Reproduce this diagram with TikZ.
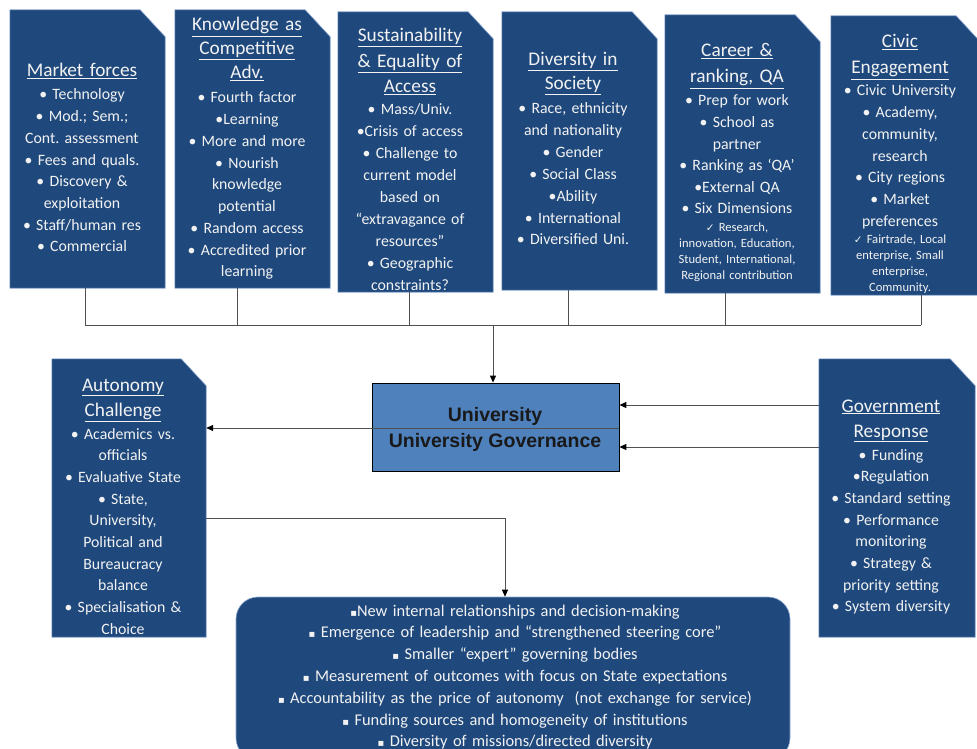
\documentclass[tikz,border=0pt]{standalone}
\usepackage{fontspec}
\setmainfont{Carlito}
\newfontfamily\symf{DejaVu Sans}
\newfontfamily\arialf{Liberation Sans}
\usetikzlibrary{fit,arrows.meta}
\definecolor{boxblue}{HTML}{1F497D}
\definecolor{unifill}{HTML}{4F81BD}
\definecolor{boxedge}{HTML}{8DA9D2}
\definecolor{txt}{HTML}{F2F2F2}
\definecolor{linec}{HTML}{505050}
\newcommand\snipbox[5]{%
  \node[inner sep=0pt, fit={(#2,#3)(#4,#5)}] (#1) {};
  \filldraw[boxshape] (#1.south west) -- (#1.north west) -- ([xshift=-25pt]#1.north east)
    -- ([yshift=-27pt]#1.north east) -- (#1.south east) -- cycle;
}
\newcommand\chk{{\symf\fontsize{10.5}{10.5}\selectfont ✓}}
\newcommand\sq{{\symf\fontsize{10}{10}\selectfont ▪}}
\frenchspacing
\begin{document}
\frenchspacing
\begin{tikzpicture}[x=1pt,y=-1pt,
  boxshape/.style={fill=boxblue, draw=boxedge, line width=0.6pt},
  head/.style={anchor=base, text width=170pt, align=center, text=txt, inner sep=0pt,
    font=\fontsize{19.3}{#1}\selectfont},
  head/.default=25,
  items/.style={anchor=base, text width=170pt, align=center, text=txt, inner sep=0pt,
    font=\fontsize{15.8}{#1}\selectfont},
  items/.default=21.7,
  small/.style={anchor=base, text width=170pt, align=center, text=txt, inner sep=0pt,
    font=\fontsize{12.6}{#1}\selectfont},
  small/.default=16,
  conn/.style={draw=linec, line width=1pt},
  arr/.style={conn, -{Triangle[length=7pt,width=6pt,color=black]}},
  unitext/.style={anchor=base, inner sep=0pt, text=black!90, font=\arialf\bfseries\fontsize{19.5}{22}\selectfont}
]
\path[use as bounding box, clip] (0,0) rectangle (977,749);
\fill[white] (0,0) rectangle (977,749);

% top boxes
\snipbox{mkt}{10}{10}{165}{288}
\node[head] (mkt-h) at (82,77) {\underline{Market forces}};
\node[items] (mkt-i) at (82,100) {• Technology\\• Mod.; Sem.;\\Cont. assessment\\• Fees and quals.\\• Discovery \&\\exploitation\\• Staff/human res\\• Commercial};

\snipbox{kno}{175}{10}{330}{288}
\node[head=24] (kno-h) at (247,31) {\underline{Knowledge as}\\\underline{Competitive}\\\underline{Adv.}};
\node[items=21.75] (kno-i) at (247,103) {• Fourth factor\\•Learning\\• More and more\\• Nourish\\knowledge\\potential\\• Random access\\• Accredited prior\\learning};

\snipbox{sus}{338}{12}{493}{292}
\node[head=25.5] (sus-h) at (410,42) {\underline{Sustainability}\\\underline{\& Equality of}\\\underline{Access}};
\node[items=21.9] (sus-i) at (410,115) {• Mass/Univ.\\•Crisis of access\\• Challenge to\\current model\\based on\\“extravagance of\\resources”\\• Geographic\\constraints?};

\snipbox{div}{502}{12}{657}{290}
\node[head=24] (div-h) at (573,66) {\underline{Diversity in}\\\underline{Society}};
\node[items=21.8] (div-i) at (573,114) {• Race, ethnicity\\and nationality\\• Gender\\• Social Class\\•Ability\\• International\\• Diversified Uni.};

\snipbox{car}{665}{15}{820}{293}
\node[head=26] (car-h) at (737,57) {\underline{Career \&}\\\underline{ranking, QA}};
\node[items=21.6] (car-i) at (737,106) {• Prep for work\\• School as\\partner\\• Ranking as ‘QA’\\•External QA\\• Six Dimensions};
\node[small=16] (car-s) at (737,231) {\chk{} Research,\\innovation, Education,\\Student, International,\\Regional contribution};

\snipbox{civ}{831}{16}{981}{295}
\node[head=26] (civ-h) at (900,48) {\underline{Civic}\\\underline{Engagement}};
\node[items=21.7] (civ-i) at (900,96) {• Civic University\\• Academy,\\community,\\research\\• City regions\\• Market\\preferences};
\node[small=16.3] (civ-s) at (900,243) {\chk{} Fairtrade, Local\\enterprise, Small\\enterprise,\\Community.};

% side boxes
\snipbox{aut}{52}{359}{206}{637}
\node[head=25] (aut-h) at (123,391) {\underline{Autonomy}\\\underline{Challenge}};
\node[items=21.7] (aut-i) at (123,439) {• Academics vs.\\officials\\• Evaluative State\\• State,\\University,\\Political and\\Bureaucracy\\balance\\• Specialisation \&\\Choice};

\snipbox{gov}{819}{359}{975}{637}
\node[head=25] (gov-h) at (891,412) {\underline{Government}\\\underline{Response}};
\node[items=21.7] (gov-i) at (891,460) {• Funding\\•Regulation\\• Standard setting\\• Performance\\monitoring\\• Strategy \&\\priority setting\\• System diversity};

% centre box
\node[fit={(372,383)(619,471)}, inner sep=0pt, fill=unifill, draw=black, line width=0.8pt] (uni) {};
\node[unitext] (uni-t1) at (495,421) {University};
\node[unitext] (uni-t2) at (495,447) {University Governance};

% bottom box
\node[fit={(236,597)(790,760)}, inner sep=0pt, fill=boxblue, draw=boxedge, line width=0.6pt, rounded corners=22pt] (out) {};
\node[items=21.8, text width=560pt, font=\fontsize{16.4}{21.8}\selectfont] (out-i) at (515,616) {\sq New internal relationships and decision-making\\
\sq{} Emergence of leadership and “strengthened steering core”\\
\sq{} Smaller “expert” governing bodies\\
\sq{} Measurement of outcomes with focus on State expectations\\
\sq{} Accountability as the price of autonomy~~(not exchange for service)\\
\sq{} Funding sources and homogeneity of institutions\\
\sq{} Diversity of missions/directed diversity};

% connectors
\coordinate (x1) at (85,325);
\coordinate (x2) at (237,325);
\coordinate (x3) at (409,325);
\coordinate (x4) at (568,325);
\coordinate (x5) at (725,325);
\coordinate (x6) at (921,325);
\coordinate (xm) at (493,325);
\draw[conn] (mkt.south -| x1) -- (x1);
\draw[conn] (kno.south -| x2) -- (x2);
\draw[conn] (sus.south -| x3) -- (x3);
\draw[conn] (div.south -| x4) -- (x4);
\draw[conn] (car.south -| x5) -- (x5);
\draw[conn] (civ.south -| x6) -- (x6);
\draw[conn] (x1) -- (x6);
\draw[arr] (xm) -- (uni.north -| xm);

\coordinate (ya) at (0,405);
\coordinate (yb) at (0,447);
\coordinate (yc) at (0,428);
\coordinate (yd) at (0,518);
\coordinate (xe) at (505,0);
\draw[arr] (gov.west |- ya) -- (uni.east |- ya);
\draw[arr] (gov.west |- yb) -- (uni.east |- yb);
\draw[arr] (uni.east |- yc) -- (aut.east |- yc);
\draw[arr] (aut.east |- yd) -| (out.north -| xe);
\end{tikzpicture}
\end{document}
